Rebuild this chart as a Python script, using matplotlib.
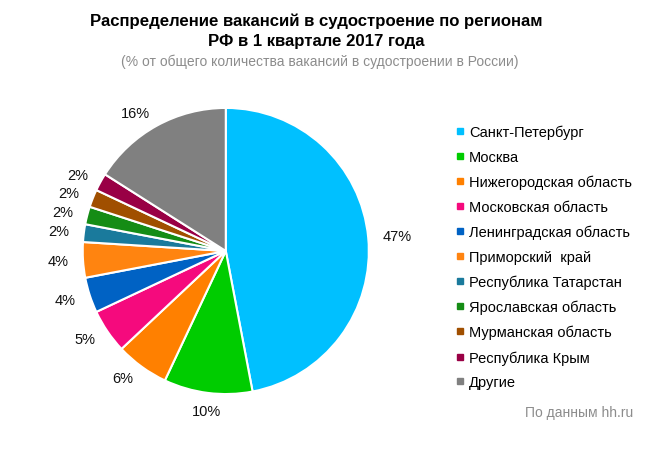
import matplotlib.pyplot as plt
from matplotlib.lines import Line2D

plt.rcParams['font.family'] = ['Liberation Sans', 'DejaVu Sans']

# Data
regions = ['Санкт-Петербург', 'Москва', 'Нижегородская область', 'Московская область',
           'Ленинградская область', 'Приморский  край', 'Республика Татарстан',
           'Ярославская область', 'Мурманская область', 'Республика Крым', 'Другие']
shares = [47, 10, 6, 5, 4, 4, 2, 2, 2, 2, 16]
colors = ['#00C0FF', '#00CC00', '#FF8000', '#F50A7D', '#0062C4', '#FF8410',
          '#1A7A9C', '#158C15', '#A04F00', '#990045', '#808080']

fig = plt.figure(figsize=(6.46, 4.52), dpi=100)
ax = fig.add_axes([0.128, 0.126, 0.443, 0.633])

wedges, texts = ax.pie(shares, colors=colors, startangle=90, counterclock=False,
                       labels=[f'{v}%' for v in shares], labeldistance=1.1,
                       wedgeprops=dict(edgecolor='white', linewidth=1.5),
                       textprops=dict(fontsize=10.5, color='#111111'))
# bottom label sits centred under its slice, like in the original
texts[1].set_horizontalalignment('center')
texts[1].set_y(texts[1].get_position()[1] - 0.03)
ax.set_xlim(-1, 1)
ax.set_ylim(-1, 1)
ax.set_aspect('equal')

fig.text(0.49, 0.97, 'Распределение вакансий в судостроение по регионам\nРФ в 1 квартале 2017 года',
         ha='center', va='top', fontsize=12.1, fontweight='bold', linespacing=1.45)
fig.text(0.495, 0.88, '(% от общего количества вакансий в судостроении в России)',
         ha='center', va='top', fontsize=10, color='#8C8C8C')

handles = [Line2D([], [], marker='s', linestyle='none', markersize=4.5,
                  markerfacecolor=c, markeredgecolor=c) for c in colors]
fig.legend(handles, regions, loc='upper left', bbox_to_anchor=(0.697, 0.735),
           frameon=False, fontsize=10.5, handlelength=0.6, handletextpad=0.3,
           labelspacing=0.74, borderaxespad=0)

fig.text(0.98, 0.087, 'По данным hh.ru', ha='right', va='center', fontsize=10, color='#8C8C8C')

plt.savefig('out.png', dpi=100)
